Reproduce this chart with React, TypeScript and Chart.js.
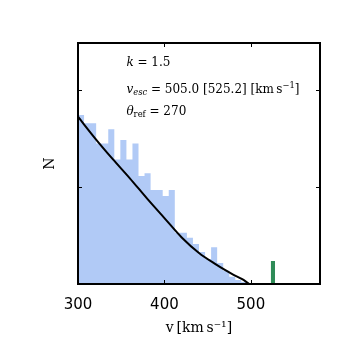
import React, { useEffect, useRef } from 'react';
import { Chart, registerables } from 'chart.js';
Chart.register(...registerables);

// Histogram bin edges (km/s) and bin heights (N, arbitrary units)
const binEdges = [300, 307, 314, 321, 328, 335, 342, 349, 356, 363, 370, 377, 384, 391, 398, 405, 412, 419, 426, 433, 440, 447, 454, 461, 468, 475, 482, 489, 496, 503, 510, 517];
const binCounts = [1.742, 1.657, 1.657, 1.45, 1.45, 1.595, 1.285, 1.485, 1.285, 1.45, 1.113, 1.141, 0.969, 0.969, 0.907, 0.969, 0.529, 0.529, 0.477, 0.412, 0.33, 0.258, 0.378, 0.216, 0.137, 0.075, 0.04, 0.02, 0.01, 0.01, 0.01];

// Model curve
const curveV = [300, 320, 340, 360, 380, 400, 420, 440, 460, 470, 480, 490, 495, 498];
const curveN = [1.725, 1.5, 1.29, 1.09, 0.88, 0.68, 0.48, 0.32, 0.2, 0.145, 0.095, 0.05, 0.02, 0.0];

// Escape-velocity marker bar
const escBarV = [523, 528];
const escBarN = 0.237;

const xTicks = [300, 400, 500];
const yTicks = [1, 2];
const xMin = 300;
const xMax = 580;
const yMax = 2.485;

const SERIF = '"DejaVu Serif", serif';

type Seg = { t: string; it?: boolean; sc?: number; dy?: number };

function drawSegs(ctx: CanvasRenderingContext2D, segs: Seg[], x: number, y: number, size: number) {
  let cx = x;
  for (const s of segs) {
    const sz = size * (s.sc ?? 1);
    ctx.font = `${s.it ? 'italic ' : ''}${sz}px ${SERIF}`;
    ctx.fillText(s.t, cx, y + (s.dy ?? 0));
    cx += ctx.measureText(s.t).width;
  }
}

const decorPlugin = {
  id: 'decor',
  afterDatasetsDraw(chart: any) {
    const { ctx, chartArea, scales } = chart;
    const { left, right, top, bottom } = chartArea;
    const x = scales.x;
    const y = scales.y;
    ctx.save();
    ctx.strokeStyle = '#000';
    ctx.lineWidth = 1;
    const tl = 4;
    ctx.beginPath();
    for (const v of xTicks) {
      const px = Math.round(x.getPixelForValue(v)) + 0.5;
      ctx.moveTo(px, bottom);
      ctx.lineTo(px, bottom - tl);
      ctx.moveTo(px, top);
      ctx.lineTo(px, top + tl);
    }
    for (const v of yTicks) {
      const py = Math.round(y.getPixelForValue(v)) + 0.5;
      ctx.moveTo(left, py);
      ctx.lineTo(left + tl, py);
      ctx.moveTo(right, py);
      ctx.lineTo(right - tl, py);
    }
    ctx.stroke();
    ctx.lineWidth = 2;
    ctx.strokeRect(left, top, right - left, bottom - top);

    ctx.fillStyle = '#000';
    ctx.textBaseline = 'alphabetic';
    ctx.textAlign = 'left';
    const tx = left + 0.2 * (right - left);
    const fs = 12;
    drawSegs(ctx, [{ t: 'k', it: true }, { t: ' = 1.5' }], tx, top + 23, fs);
    drawSegs(ctx, [
      { t: 'v', it: true },
      { t: 'esc', it: true, sc: 0.7, dy: 2 },
      { t: ' = 505.0 [525.2] [km\u2009s' },
      { t: '−1', sc: 0.7, dy: -5 },
      { t: ']' },
    ], tx, top + 50, fs);
    drawSegs(ctx, [
      { t: 'θ', it: true },
      { t: 'ref', sc: 0.7, dy: 2 },
      { t: ' = 270' },
    ], tx, top + 72, fs);
    ctx.restore();
  },
};

export default function App() {
  const ref = useRef<HTMLCanvasElement | null>(null);
  useEffect(() => {
    document.body.style.margin = '0';
    const canvas = ref.current;
    if (!canvas) return;
    const histPts = binEdges.map((e, i) => ({ x: e, y: i < binCounts.length ? binCounts[i] : 0 }));
    const curvePts = curveV.map((v, i) => ({ x: v, y: curveN[i] }));
    const escPts = [
      { x: escBarV[0], y: escBarN },
      { x: escBarV[1], y: 0 },
    ];
    const chart = new Chart(canvas, {
      type: 'line',
      data: {
        datasets: [
          {
            label: 'model',
            data: curvePts,
            borderColor: '#000',
            borderWidth: 2,
            pointRadius: 0,
            fill: false,
            cubicInterpolationMode: 'monotone',
          },
          {
            label: 'esc',
            data: escPts,
            stepped: 'before',
            borderColor: 'rgba(0,0,0,0)',
            borderWidth: 0,
            backgroundColor: '#2e8b57',
            pointRadius: 0,
            fill: 'origin',
          },
          {
            label: 'hist',
            data: histPts,
            stepped: 'before',
            borderColor: 'rgba(0,0,0,0)',
            borderWidth: 0,
            backgroundColor: 'rgba(100,149,237,0.5)',
            pointRadius: 0,
            fill: 'origin',
          },
        ],
      },
      options: {
        animation: false,
        responsive: false,
        devicePixelRatio: 1,
        layout: { padding: { top: 43, right: 37, left: 0, bottom: 0 } },
        plugins: { legend: { display: false }, tooltip: { enabled: false } },
        scales: {
          x: {
            type: 'linear',
            position: 'bottom',
            min: xMin,
            max: xMax,
            grid: { display: false },
            border: { display: false },
            afterBuildTicks: (s: any) => {
              s.ticks = xTicks.map((v) => ({ value: v }));
            },
            afterFit: (s: any) => {
              s.height = 73;
            },
            ticks: {
              color: '#000',
              padding: 4,
              maxRotation: 0,
              font: { family: '"DejaVu Sans", sans-serif', size: 15 },
              callback: (v: any) => String(v),
            },
            title: {
              display: true,
              text: 'v\u2009[km\u2009s⁻¹]',
              color: '#000',
              font: { family: SERIF, size: 14 },
              padding: { top: 0, bottom: 20 },
            },
          },
          y: {
            type: 'linear',
            min: 0,
            max: yMax,
            grid: { display: false },
            border: { display: false },
            afterBuildTicks: (s: any) => {
              s.ticks = yTicks.map((v) => ({ value: v }));
            },
            afterFit: (s: any) => {
              s.width = 78;
            },
            ticks: { display: false },
            title: {
              display: true,
              text: 'N',
              color: '#000',
              font: { family: SERIF, size: 14 },
              padding: { top: 42, bottom: 0 },
            },
          },
        },
      },
      plugins: [decorPlugin],
    });
    return () => chart.destroy();
  }, []);
  return (
    <div style={{ position: 'absolute', left: 0, top: 0, width: 357, height: 357 }}>
      <canvas ref={ref} width={357} height={357} />
    </div>
  );
}
